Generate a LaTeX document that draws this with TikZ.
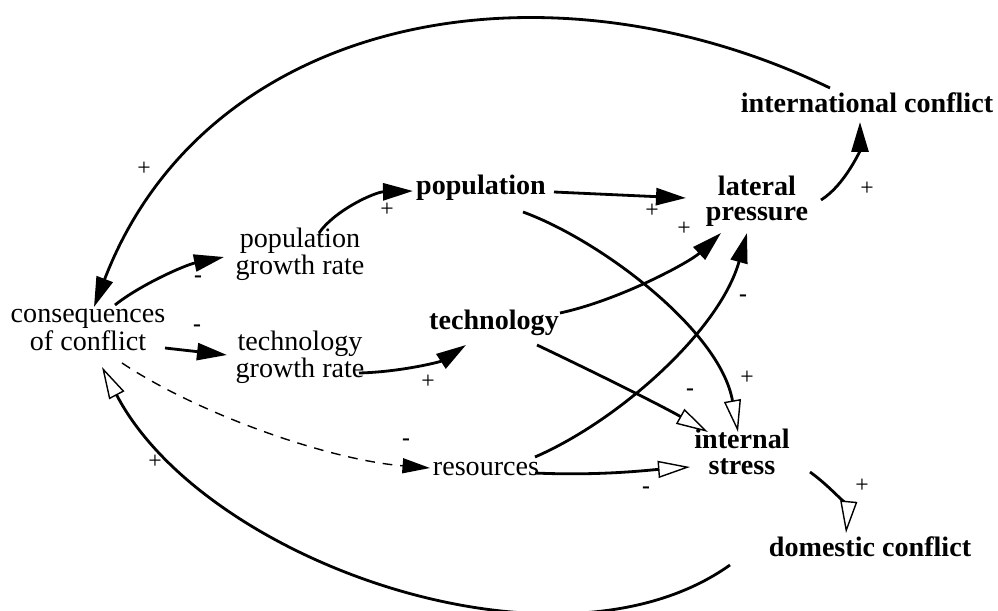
\documentclass[tikz,border=0pt]{standalone}
\usepackage{fontspec}
\setmainfont{Liberation Serif}
\usetikzlibrary{arrows.meta}
\tikzset{
  reg/.style={font=\fontsize{16}{14.5}\selectfont, align=center, inner sep=1pt},
  bld/.style={font=\fontsize{16}{14.5}\selectfont\bfseries, align=center, inner sep=1pt},
  sgn/.style={font=\fontsize{13.5}{13.5}\selectfont, inner sep=0pt},
  msgn/.style={font=\fontsize{13.5}{13.5}\selectfont\bfseries, inner sep=0pt},
  link/.style={line width=1.6pt, -{Triangle[length=0.6cm,width=0.34cm]}},
  olink/.style={line width=1.6pt, -{Triangle[open,length=0.64cm,width=0.34cm,fill=white,line width=0.8pt]}},
  dlink/.style={line width=0.8pt, dash pattern=on 5.5pt off 4.5pt, -{Triangle[length=0.55cm,width=0.3cm]}},
}
\begin{document}
\begin{tikzpicture}[x=0.02cm,y=-0.02cm]
\useasboundingbox (0,0) rectangle (998,611);
% nodes
\node[bld] (intl) at (867,103) {international conflict};
\node[bld] (lat)  at (757,201) {lateral\\pressure};
\node[bld] (pop)  at (481,188) {population};
\node[reg] (pgr)  at (300,254) {population\\growth rate};
\node[reg] (cons) at (88,330)  {consequences\\of conflict};
\node[bld] (tech) at (494,323) {technology};
\node[reg] (tgr)  at (300,357) {technology\\growth rate};
\node[reg] (res)  at (486,469) {resources};
\node[bld] (ist)  at (742,452) {internal\\stress};
\node[bld] (dom)  at (870,547) {domestic conflict};
% connectors
\draw[olink] ([shift={(-140,18)}]dom.center) .. controls (559,687) and (204,562) .. ([shift={(14,37)}]cons.center);
\draw[link] ([shift={(-37,-15)}]intl.center) .. controls (544,-50) and (206,15) .. ([shift={(6,-23)}]cons.center);
\draw[link] ([shift={(64,-1)}]lat.center) .. controls (845,185) and (860,150) .. ([shift={(-7,19)}]intl.center);
\draw[link] ([shift={(73,4)}]pop.center) -- ([shift={(-71,-3)}]lat.center);
\draw[link] ([shift={(19,-21)}]pgr.center) .. controls (335,210) and (375,192) .. ([shift={(-68,3)}]pop.center);
\draw[link] ([shift={(27,-25)}]cons.center) .. controls (140,285) and (185,265) .. ([shift={(-76,3)}]pgr.center);
\draw[link] ([shift={(77,18)}]cons.center) -- ([shift={(-73,-2)}]tgr.center);
\draw[link] ([shift={(59,16)}]tgr.center) .. controls (400,372) and (440,362) .. ([shift={(-28,22)}]tech.center);
\draw[link] ([shift={(66,-10)}]tech.center) .. controls (620,300) and (690,262) .. ([shift={(-36,32)}]lat.center);
\draw[link] ([shift={(49,-12)}]res.center) .. controls (620,420) and (720,330) .. ([shift={(-10,32)}]lat.center);
\draw[olink] ([shift={(42,24)}]pop.center) .. controls (600,240) and (720,330) .. ([shift={(-4,-20)}]ist.center);
\draw[olink] ([shift={(43,22)}]tech.center) .. controls (600,375) and (660,405) .. ([shift={(-34,-20)}]ist.center);
\draw[olink] ([shift={(49,4)}]res.center) .. controls (600,476) and (650,470) .. ([shift={(-52,15)}]ist.center);
\draw[dlink] ([shift={(34,33)}]cons.center) .. controls (200,415) and (330,460) .. ([shift={(-56,-1)}]res.center);
\draw[olink] ([shift={(68,20)}]ist.center) .. controls (835,490) and (848,510) .. ([shift={(-24,-14)}]dom.center);
% signs
\node[sgn]  (s1)  at (144,169) {+};
\node[sgn]  (s2)  at (155,462) {+};
\node[sgn]  (s3)  at (867,189) {+};
\node[sgn]  (s4)  at (652,211) {+};
\node[sgn]  (s5)  at (387,210) {+};
\node[msgn] (s6)  at (198,279) {-};
\node[msgn] (s7)  at (197,328) {-};
\node[sgn]  (s8)  at (428,382) {+};
\node[sgn]  (s9)  at (684,229) {+};
\node[msgn] (s10) at (743,298) {-};
\node[sgn]  (s11) at (747,378) {+};
\node[msgn] (s12) at (690,392) {-};
\node[msgn] (s13) at (646,490) {-};
\node[msgn] (s14) at (406,442) {-};
\node[sgn]  (s15) at (862,486) {+};
\end{tikzpicture}
\end{document}
